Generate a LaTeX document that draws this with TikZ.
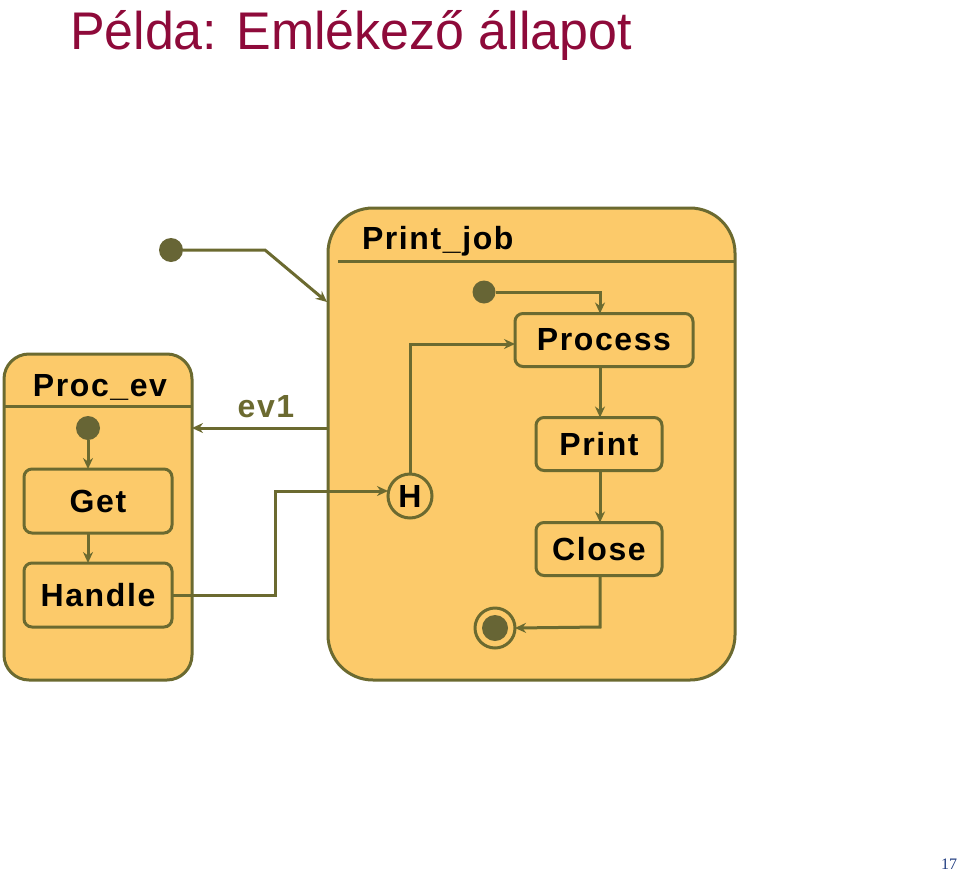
\documentclass[tikz,border=0pt]{standalone}
\usepackage{fontspec}
\setmainfont{Liberation Sans}
\newfontfamily\lab{Liberation Sans}[LetterSpace=5]
\newfontfamily\ttl{Liberation Sans}[FakeStretch=0.98]
\newfontfamily\pnum{Liberation Serif}
\usetikzlibrary{arrows.meta}
\definecolor{fillc}{HTML}{FCCA6A}
\definecolor{linec}{HTML}{6B6A30}
\definecolor{dotc}{HTML}{676535}
\definecolor{titlec}{HTML}{8E0A3A}
\definecolor{numc}{HTML}{203C80}
\begin{document}
\begin{tikzpicture}[x=1pt,y=-1pt,
  every node/.style={inner sep=0pt,outer sep=0pt},
  olive/.style={draw=linec,line width=3pt},
  conn/.style={draw=linec,line width=3pt,-{Stealth[length=11pt,width=10pt]}},
  superstate/.style={olive,fill=fillc},
  simple/.style={olive,fill=fillc,rounded corners=8pt,rectangle},
  lbl/.style={font=\lab\bfseries\fontsize{32}{36}\selectfont,text=black},
  dot/.style={circle,fill=dotc,minimum size=24pt},
]
\useasboundingbox (0,0) rectangle (960,875);
% title
\node[anchor=base west,text=titlec,font=\ttl\fontsize{53}{56}\selectfont] (title) at (70,50) {Példa: Emlékező állapot};
\node[anchor=base east,text=numc,font=\pnum\fontsize{16}{18}\selectfont] (num) at (957,869) {17};
% superstates
\draw[superstate,rounded corners=45pt] (328,208) rectangle (735,680);
\draw[olive] (338,261) -- (735,261);
\node[lbl,anchor=base west] (pjt) at (362,249) {Print\_job};
\draw[superstate,rounded corners=25pt] (4,354) rectangle (192,680);
\draw[olive] (4,406) -- (192,406);
\node[lbl,anchor=base] (pet) at (100,396) {Proc\_ev};
\coordinate (pjleft) at (328,428);
\coordinate (peright) at (192,428);
\coordinate (pjentry) at (327,302);
% states
\node[simple,minimum width=178pt,minimum height=53pt,lbl] (process) at (604,340) {Process};
\node[simple,minimum width=126pt,minimum height=53pt,lbl] (print) at (599,444) {Print};
\node[simple,minimum width=126pt,minimum height=53pt,lbl] (close) at (599,549) {Close};
\node[simple,minimum width=148pt,minimum height=64pt,lbl] (get) at (98,501) {Get};
\node[simple,minimum width=148pt,minimum height=64pt,lbl] (handle) at (98,595) {Handle};
\node[olive,fill=fillc,circle,minimum size=44pt,lbl] (hist) at (410,496) {H};
% pseudostates
\node[dot] (init0) at (171,250) {};
\node[dot,minimum size=23pt] (init1) at (484,292) {};
\node[dot] (init2) at (88,428) {};
\node[circle,olive,fill=fillc,minimum size=40pt] (fin) at (495,628) {};
\node[dot,minimum size=26pt] (finin) at (fin) {};
% connectors
\draw[conn] (init0.east) -- (265,250) -- (pjentry);
\draw[conn] (init1.east) -- (600,292) -- (process.north -| 600,0);
\draw[conn] (process.south -| 600,0) -- (print.north -| 600,0);
\draw[conn] (print.south -| 600,0) -- (close.north -| 600,0);
\draw[conn] (close.south -| 600,0) -- (600,627) -- (fin.east);
\draw[conn] (hist.north) -- (410,344) -- (process.west |- 0,344);
\draw[conn] (handle.east) -- (275,595) -- (275,491) -- (hist.west |- 0,491);
\draw[conn] (pjleft) -- (peright);
\node[anchor=base,font=\lab\bfseries\fontsize{32}{36}\selectfont,text=linec] (ev1) at (266,417) {ev1};
\draw[conn] (init2.south) -- (get.north -| 88,0);
\draw[conn] (get.south -| 88,0) -- (handle.north -| 88,0);
\end{tikzpicture}
\end{document}
